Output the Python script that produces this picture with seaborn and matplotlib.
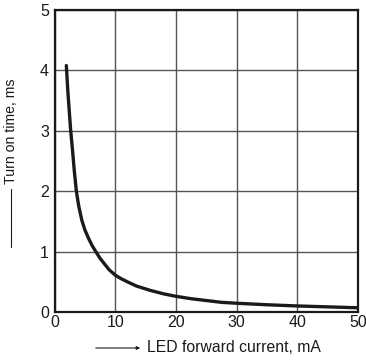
import matplotlib
matplotlib.use("Agg")
import matplotlib.pyplot as plt
import seaborn as sns
import pandas as pd
from matplotlib.lines import Line2D

current_ma = [1.95, 2.2, 2.45, 2.67, 2.95, 3.25, 3.6, 4.0, 4.5, 5.0, 5.7, 6.2, 6.8, 7.5, 8.2, 9.0, 10.0,
              11.0, 12.0, 13.5, 15.7, 18.0, 20.0, 22.5, 25.0, 27.5, 30.0, 35.0, 40.0, 45.0, 50.0]
turn_on_ms = [4.08, 3.65, 3.3, 3.0, 2.7, 2.35, 2.0, 1.75, 1.52, 1.36, 1.2, 1.1, 1.0, 0.89, 0.8, 0.70, 0.61,
              0.55, 0.50, 0.43, 0.36, 0.30, 0.26, 0.22, 0.19, 0.16, 0.145, 0.12, 0.10, 0.085, 0.07]
x_ticks = [0, 10, 20, 30, 40, 50]
y_ticks = [0, 1, 2, 3, 4, 5]

sns.set_theme(style="white")
plt.rcParams['font.family'] = ['Liberation Sans', 'DejaVu Sans']

df = pd.DataFrame({"current": current_ma, "ton": turn_on_ms})

fig = plt.figure(figsize=(3.66, 3.61), dpi=100)
L, R, T, B = 54.5, 358, 10, 312
ax = fig.add_axes([L/366, 1 - B/361, (R-L)/366, (B-T)/361])

ax.grid(True, color="#555555", linewidth=1.0)
ax.set_axisbelow(True)
sns.lineplot(data=df, x="current", y="ton", ax=ax, color="#1a1a1a", linewidth=2.4)

ax.set_xlim(0, 50)
ax.set_ylim(0, 5)
ax.set_xticks(x_ticks)
ax.set_yticks(y_ticks)
ax.set_xticklabels([str(t) for t in x_ticks])
ax.set_yticklabels([str(t) for t in y_ticks])
ax.tick_params(axis='both', length=0, labelsize=11.5, colors="#1a1a1a")
ax.tick_params(axis='x', pad=2.5)
ax.tick_params(axis='y', pad=4)
ax.set_xlabel("")
ax.set_ylabel("")
for s in ax.spines.values():
    s.set_color("#1a1a1a")
    s.set_linewidth(1.6)
    s.set_visible(True)

# x label with leading arrow line
fig.text(147/366, 1 - 348/361, "LED forward current, mA", fontsize=11.3,
         ha="left", va="center", color="#1a1a1a")
ax.annotate("", xy=(143/366, 1 - 348/361), xytext=(93/366, 1 - 348/361),
            xycoords="figure fraction", textcoords="figure fraction",
            arrowprops=dict(arrowstyle="-|>", color="#1a1a1a", lw=0.8,
                            mutation_scale=5))

# y label with leading line
fig.text(11/366, 1 - 78/361, "Turn on time, ms", fontsize=10.2, rotation=90,
         ha="center", va="top", color="#1a1a1a")
fig.add_artist(Line2D([11/366, 11/366], [1 - 247/361, 1 - 189/361],
                      transform=fig.transFigure, color="#1a1a1a", lw=0.8))

fig.savefig("out.png", dpi=100)
